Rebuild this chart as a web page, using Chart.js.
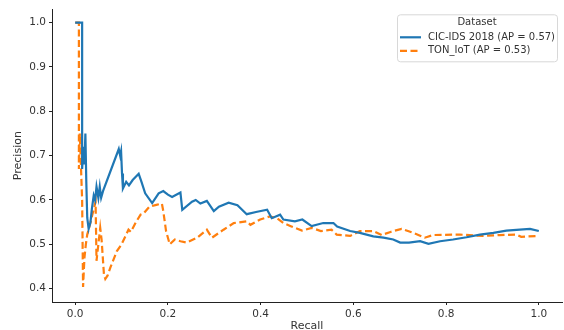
<!DOCTYPE html>
<html>
<head>
<meta charset="utf-8">
<script src="https://cdn.jsdelivr.net/npm/chart.js@4.4.1/dist/chart.umd.min.js"></script>
<style>
  html, body { margin: 0; padding: 0; background: #fff; }
  #wrap { width: 564px; height: 330px; }
</style>
</head>
<body>
<div id="wrap"><canvas id="graficoPR"></canvas></div>
<script>
// ---- dados (recall, precision)

const cicRecall = [0, 0.015, 0.015, 0.018, 0.02, 0.022, 0.024, 0.026, 0.029, 0.033, 0.036, 0.04, 0.043, 0.046, 0.05, 0.053, 0.056, 0.06,
    0.094, 0.097, 0.099, 0.101, 0.103, 0.11, 0.116, 0.124, 0.137, 0.143, 0.151, 0.166, 0.18, 0.19, 0.2, 0.209, 0.227, 0.231,
    0.252, 0.26, 0.27, 0.284, 0.299, 0.31, 0.331, 0.35, 0.37, 0.39, 0.414, 0.424, 0.442, 0.449, 0.474, 0.49, 0.51, 0.535,
    0.557, 0.565, 0.593, 0.614, 0.643, 0.665, 0.686, 0.701, 0.72, 0.744, 0.762, 0.787, 0.815, 0.844, 0.873, 0.902, 0.93,
    0.959, 0.981, 1.0];
const cicPrecision = [1.0, 1.0, 0.67, 0.72, 0.68, 0.75, 0.64, 0.56, 0.535, 0.55, 0.58, 0.61, 0.6, 0.63, 0.605, 0.63, 0.605, 0.62,
    0.715, 0.7, 0.71, 0.66, 0.626, 0.641, 0.633, 0.645, 0.659, 0.641, 0.615, 0.593, 0.615, 0.62, 0.612, 0.607, 0.617, 0.578,
    0.596, 0.6, 0.592, 0.598, 0.575, 0.585, 0.594, 0.588, 0.568, 0.573, 0.578, 0.559, 0.567, 0.556, 0.552, 0.556, 0.541, 0.548,
    0.548, 0.54, 0.53, 0.526, 0.518, 0.515, 0.511, 0.504, 0.504, 0.507, 0.501, 0.507, 0.511, 0.516, 0.522, 0.526, 0.531,
    0.533, 0.535, 0.53];

const tonRecall = [0, 0.008, 0.008, 0.01, 0.012, 0.015, 0.017, 0.02, 0.023, 0.026, 0.03, 0.037, 0.044, 0.046, 0.05, 0.054, 0.057,
    0.062, 0.065, 0.07, 0.076, 0.09, 0.1, 0.115, 0.12, 0.13, 0.141, 0.148, 0.16, 0.175, 0.187, 0.19, 0.196, 0.204, 0.215,
    0.227, 0.241, 0.263, 0.284, 0.295, 0.32, 0.342, 0.37, 0.378, 0.399, 0.42, 0.435, 0.449, 0.465, 0.489, 0.51, 0.53, 0.553,
    0.564, 0.593, 0.614, 0.643, 0.661, 0.68, 0.704, 0.729, 0.754, 0.772, 0.83, 0.88, 0.916, 0.952, 0.962, 1.0];
const tonPrecision = [1.0, 1.0, 0.67, 0.75, 0.69, 0.6, 0.404, 0.47, 0.5, 0.522, 0.537, 0.567, 0.596, 0.463, 0.5, 0.537, 0.51,
    0.433, 0.422, 0.43, 0.448, 0.485, 0.5, 0.533, 0.528, 0.548, 0.567, 0.57, 0.585, 0.589, 0.592, 0.575, 0.53, 0.5, 0.511,
    0.507, 0.504, 0.515, 0.533, 0.515, 0.533, 0.548, 0.552, 0.544, 0.556, 0.563, 0.559, 0.548, 0.541, 0.531, 0.537, 0.53, 0.533,
    0.522, 0.519, 0.53, 0.53, 0.521, 0.528, 0.535, 0.526, 0.515, 0.521, 0.522, 0.519, 0.521, 0.522, 0.517, 0.519];

const legendTitle = 'Dataset';
const cicLabel = 'CIC-IDS 2018 (AP = 0.57)';
const tonLabel = 'TON_IoT (AP = 0.53)';

const xTicks = [0.0, 0.2, 0.4, 0.6, 0.8, 1.0];
const yTicks = [0.4, 0.5, 0.6, 0.7, 0.8, 0.9, 1.0];

// junta recall e precision em pontos {x, y}
function montarPontos(recall, precision) {
    return recall.map((r, i) => ({ x: r, y: precision[i] }));
}

const fonte = 'DejaVu Sans';
const corTexto = '#333';

// ---- legenda com moldura (estilo matplotlib)
const legendaMoldura = {
    id: 'legendaMoldura',
    afterDraw(chart) {
        const ctx = chart.ctx;
        const area = chart.chartArea;
        const w = 160, h = 47;
        const x0 = area.right - 5 - w;
        const y0 = area.top + 5;
        ctx.save();
        ctx.fillStyle = 'rgba(255,255,255,0.8)';
        ctx.strokeStyle = '#d8d8d8';
        ctx.lineWidth = 1;
        ctx.beginPath();
        ctx.roundRect(x0 + 0.5, y0 + 0.5, w, h, 3);
        ctx.fill();
        ctx.stroke();

        ctx.fillStyle = corTexto;
        ctx.font = '10px "' + fonte + '"';
        ctx.textBaseline = 'middle';
        ctx.textAlign = 'center';
        ctx.fillText(legendTitle, x0 + w / 2, y0 + 8.5);

        ctx.textAlign = 'left';
        chart.data.datasets.forEach((ds, i) => {
            const yy = y0 + 23 + i * 13.5;
            ctx.strokeStyle = ds.borderColor;
            ctx.lineWidth = ds.borderWidth;
            ctx.setLineDash(ds.borderDash || []);
            ctx.beginPath();
            ctx.moveTo(x0 + 3, yy);
            ctx.lineTo(x0 + 24, yy);
            ctx.stroke();
            ctx.setLineDash([]);
            ctx.fillStyle = corTexto;
            ctx.fillText(ds.label, x0 + 31, yy);
        });
        ctx.restore();
    }
};

const ctx = document.getElementById('graficoPR').getContext('2d');
let graficoPR = new Chart(ctx, {
    type: 'line',
    data: {
        datasets: [{
            label: cicLabel,
            data: montarPontos(cicRecall, cicPrecision),
            borderColor: '#1f77b4',
            borderWidth: 2.2,
            pointRadius: 0,
            tension: 0
        }, {
            label: tonLabel,
            data: montarPontos(tonRecall, tonPrecision),
            borderColor: '#ff7f0e',
            borderWidth: 2.2,
            borderDash: [7, 3.5],
            pointRadius: 0,
            tension: 0
        }]
    },
    options: {
        responsive: true,
        maintainAspectRatio: false,
        animation: false,
        layout: { padding: { top: 4, right: 2, left: 0, bottom: 0 } },
        plugins: {
            legend: { display: false },
            tooltip: { enabled: false }
        },
        scales: {
            x: {
                type: 'linear',
                min: -0.05,
                max: 1.05,
                afterBuildTicks: (scale) => { scale.ticks = xTicks.map(v => ({ value: v })); },
                afterFit: (scale) => { scale.height = 28; },
                grid: { drawOnChartArea: false, tickLength: 3, color: '#222' },
                border: { display: true, color: '#222', width: 1 },
                ticks: {
                    padding: 3,
                    color: corTexto,
                    font: { family: fonte, size: 10.5 },
                    callback: (v) => v.toFixed(1)
                },
                title: {
                    display: true,
                    text: 'Recall',
                    color: corTexto,
                    font: { family: fonte, size: 11, lineHeight: 1 },
                    padding: { top: 0, bottom: -1.5 }
                }
            },
            y: {
                type: 'linear',
                min: 0.37,
                max: 1.03,
                afterBuildTicks: (scale) => { scale.ticks = yTicks.map(v => ({ value: v })); },
                afterFit: (scale) => { scale.width = 52; },
                grid: { drawOnChartArea: false, tickLength: 3, color: '#222' },
                border: { display: true, color: '#222', width: 1 },
                ticks: {
                    padding: 3,
                    color: corTexto,
                    font: { family: fonte, size: 10.5 },
                    callback: (v) => v.toFixed(1)
                },
                title: {
                    display: true,
                    text: 'Precision',
                    color: corTexto,
                    font: { family: fonte, size: 11, lineHeight: 1 },
                    padding: { top: 13, bottom: 0 }
                }
            }
        }
    },
    plugins: [legendaMoldura]
});
</script>
</body>
</html>
